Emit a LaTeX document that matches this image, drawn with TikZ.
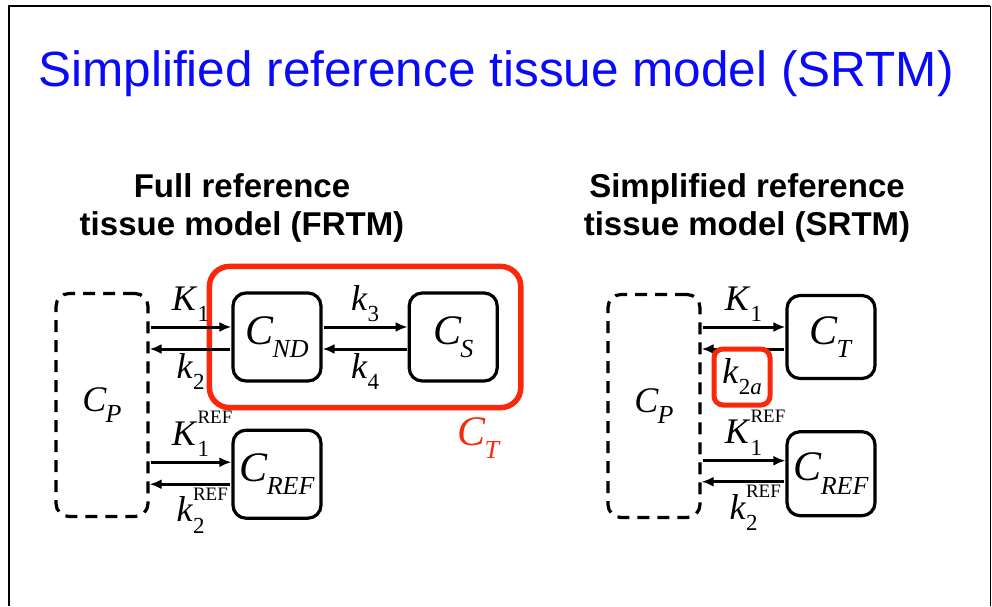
\documentclass[tikz,border=0pt]{standalone}
\usepackage{fontspec}
\setmainfont{Liberation Serif}
\setsansfont{Liberation Sans}
\usepackage{xcolor}
\usepackage{tikz}
\usetikzlibrary{positioning, arrows.meta, fit}

\definecolor{ctred}{RGB}{250,40,10}
\definecolor{titleblue}{RGB}{10,10,250}

% italic symbol with subscript (and optional superscript)
\newcommand{\csym}[2]{\textit{#1}\kern-1pt\raisebox{-0.32em}{\fontsize{26}{26}\selectfont\textit{#2}}}
\newcommand{\rsym}[2]{\textit{#1}\raisebox{-0.3em}{\fontsize{23}{23}\selectfont #2}}
\newcommand{\rsymref}[2]{\textit{#1}\rlap{\raisebox{0.6em}{\fontsize{19}{19}\selectfont REF}}\raisebox{-0.32em}{\fontsize{23}{23}\selectfont #2}}

\begin{document}
\begin{tikzpicture}[
			x=1pt, y=-1pt,
			box/.style={
				draw,
				rectangle,
				rounded corners=13pt,
				line width=3.2pt,
				minimum width=88pt,
				minimum height=88pt,
				font=\fontsize{42}{44}\selectfont
			},
			plasma/.style={
				box,
				dashed,
				dash pattern=on 12pt off 8pt,
				minimum width=92pt,
				minimum height=223pt,
				font=\fontsize{36}{38}\selectfont
			},
			flow/.style={-{Latex[length=12pt,width=10pt]}, line width=3pt, shorten <=1pt},
			rate/.style={font=\fontsize{36}{38}\selectfont, inner sep=1pt},
			heading/.style={font=\sffamily\bfseries\fontsize{33}{38}\selectfont, align=center}
			]
			
			% page frame
			\useasboundingbox (0,0) rectangle (992,606);
			\draw[line width=1.6pt] (9,606) -- (9,6) -- (990,6);
			\draw[line width=0.8pt] (990,6) -- (990,606);
			
			% Title
			\node[font=\sffamily\fontsize{49.5}{52}\selectfont, text=titleblue] (title) at (496,74) {Simplified reference tissue model (SRTM)};
			
			% Headings
			\node[heading] (fhead) at (242,208) {Full reference\\tissue model (FRTM)};
			\node[heading] (shead) at (747,208) {Simplified reference\\tissue model (SRTM)};
			
			% Left model: FRTM
			\node[plasma] (cp) at (102,405) {\csym{C}{P}};
			\node[box] (cnd) at (277,337) {\csym{C}{ND}};
			\node[box, right=85pt of cnd] (cs) {\csym{C}{S}};
			\node[box, below=46pt of cnd] (cref) {\csym{C}{REF}};
			
			% red frame around the target region
			\node[draw=ctred, line width=5.5pt, rounded corners=20pt, fit=(cnd)(cs), inner xsep=22pt, inner ysep=25pt] (ctbox) {};
			\node[text=ctred, font=\fontsize{42}{44}\selectfont] (ctlab) at (479,438) {\csym{C}{T}};
			
			\draw[flow] ([yshift=10pt]cnd.west -| cp.east) -- node[rate, above=3pt] (lk1) {\rsym{K}{1}} ([yshift=10pt]cnd.west);
			\draw[flow] ([yshift=-12pt]cnd.west) -- node[rate, below=2pt] (lk2) {\rsym{k}{2}} ([yshift=-12pt]cnd.west -| cp.east);
			\draw[flow] ([yshift=10pt]cnd.east) -- node[rate, above=3pt] (lk3) {\rsym{k}{3}} ([yshift=10pt]cs.west);
			\draw[flow] ([yshift=-12pt]cs.west) -- node[rate, below=2pt] (lk4) {\rsym{k}{4}} ([yshift=-12pt]cnd.east);
			\draw[flow] ([yshift=12pt]cref.west -| cp.east) -- node[rate, above=3pt] (lk1r) {\rsymref{K}{1}} ([yshift=12pt]cref.west);
			\draw[flow] ([yshift=-10pt]cref.west) -- node[rate, below=1pt] (lk2r) {\rsymref{k}{2}} ([yshift=-10pt]cref.west -| cp.east);
			
			% Right model: SRTM
			\node[plasma] (cp2) at (654,406) {\csym{C}{P}};
			\node[box, minimum height=83pt] (ct2) at (831,337) {\csym{C}{T}};
			\node[box, minimum height=84pt, below=50pt of ct2] (cref2) {\csym{C}{REF}};
			
			\draw[flow] ([yshift=10pt]ct2.west -| cp2.east) -- node[rate, above=3pt] (rk1) {\rsym{K}{1}} ([yshift=10pt]ct2.west);
			\draw[flow] ([yshift=-12pt]ct2.west) -- ([yshift=-12pt]ct2.west -| cp2.east);
			\node[draw=ctred, line width=5pt, rounded corners=9pt, minimum width=56pt, minimum height=56pt, font=\fontsize{36}{38}\selectfont] (k2a) at (742,377) {\textit{k}\raisebox{-0.3em}{\fontsize{23}{23}\selectfont 2\textit{a}}};
			\draw[flow] ([yshift=13pt]cref2.west -| cp2.east) -- node[rate, above=3pt] (rk1r) {\rsymref{K}{1}} ([yshift=13pt]cref2.west);
			\draw[flow] ([yshift=-8pt]cref2.west) -- node[rate, below=1pt] (rk2r) {\rsymref{k}{2}} ([yshift=-8pt]cref2.west -| cp2.east);
			
		\end{tikzpicture}
\end{document}
